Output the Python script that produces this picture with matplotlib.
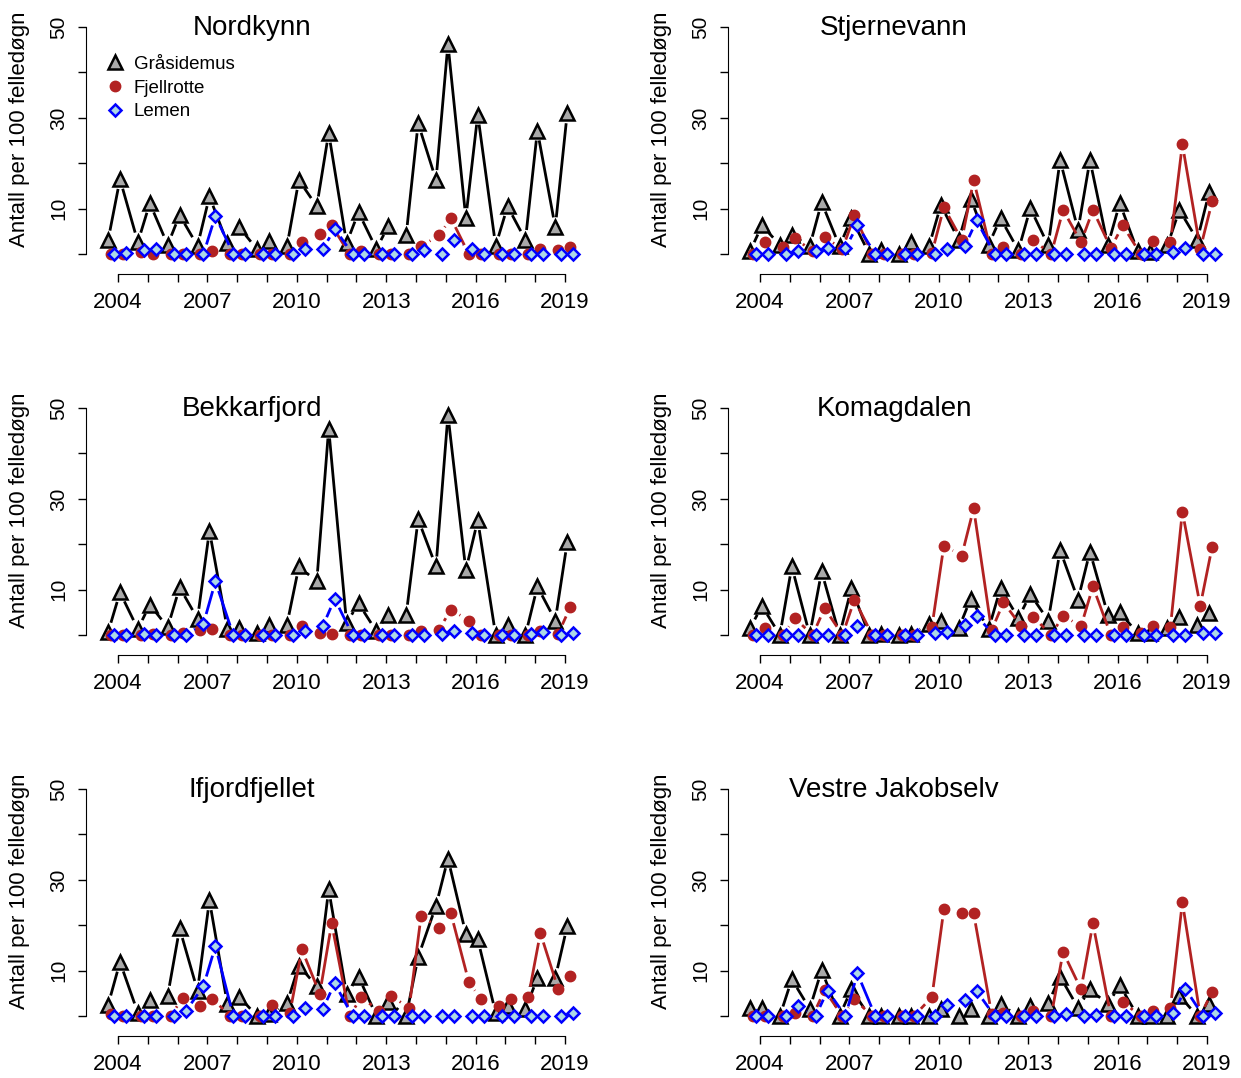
import numpy as np
import matplotlib
matplotlib.use('Agg')
import matplotlib.pyplot as plt
from matplotlib.collections import LineCollection
from matplotlib.lines import Line2D

plt.rcParams['font.family'] = ['Liberation Sans', 'DejaVu Sans']

years = np.arange(2004, 2020)
year_labels = [str(y) if (y - 2004) % 3 == 0 else '' for y in years]
y_ticks = [0, 10, 20, 30, 40, 50]
y_ticklabels = ['', '10', '', '30', '', '50']

# vår og høst hvert år, 32 fangster per art
nordkynn_gras = [3.0, 16.5, 2.6, 11.2, 2.0, 8.6, 1.8, 12.7, 2.4, 5.9, 1.0, 2.8, 1.7, 16.3, 10.5, 26.7,
                 2.4, 9.2, 1.1, 6.2, 4.2, 28.8, 16.3, 46.3, 7.9, 30.7, 1.8, 10.5, 3.1, 27.2, 5.9, 31.0]
nordkynn_fjell = [0, 0, 0.4, 0, 0, 0, 0, 0.7, 0, 0, 0, 0, 0, 2.6, 4.4, 6.3,
                  0, 0.6, 0, 0, 0, 1.7, 4.1, 7.9, 0, 0, 0, 0, 0, 1.1, 0.8, 1.5]
nordkynn_lemen = [0, 0.2, 0.8, 1.0, 0, 0, 0, 8.4, 0, 0, 0, 0, 0, 1.0, 1.0, 5.6,
                  0, 0, 0, 0, 0, 0.8, 0, 3.1, 1.0, 0, 0, 0, 0, 0, 0, 0]

stjernevann_gras = [0.6, 6.3, 2.0, 4.2, 1.7, 11.4, 1.7, 7.9, 0, 0.8, 0, 2.6, 1.7, 10.8, 3.1, 12.2,
                    2.0, 7.9, 0.8, 10.1, 1.9, 20.7, 5.3, 20.7, 1.9, 11.2, 0.6, 0.5, 1.9, 9.7, 3.1, 13.6]
stjernevann_fjell = [0, 2.6, 1.5, 3.5, 0.6, 3.7, 1.1, 8.5, 0, 0, 0, 0, 0.2, 10.3, 3.1, 16.3,
                     0, 1.5, 0, 3.0, 0, 9.7, 2.6, 9.7, 1.3, 6.3, 0, 2.8, 2.6, 24.2, 1.1, 11.6]
stjernevann_lemen = [0, 0, 0, 0.6, 0.6, 1.3, 1.3, 6.3, 0, 0, 0, 0, 0, 1.0, 1.7, 7.4,
                     0, 0, 0, 0, 0, 0, 0, 0, 0, 0, 0, 0, 0.4, 1.3, 0, 0]

bekkarfjord_gras = [0.6, 9.4, 1.3, 6.7, 1.7, 10.5, 3.6, 23.0, 1.3, 1.5, 0.4, 2.3, 2.3, 15.1, 11.8, 45.5,
                    2.6, 7.0, 0.8, 4.5, 4.5, 25.5, 15.1, 48.5, 14.3, 25.3, 0, 2.1, 0, 10.7, 3.2, 20.4]
bekkarfjord_fjell = [0, 0, 0, 0.2, 0, 0.4, 1.0, 1.3, 0, 0, 0, 0, 0, 1.9, 0.4, 0.3,
                     0, 0, 0, 0, 0, 0.8, 1.2, 5.6, 3.2, 0, 0, 0, 0, 0.8, 0.3, 6.1]
bekkarfjord_lemen = [0, 0, 0.2, 0, 0, 0, 2.5, 11.8, 0, 0, 0, 0, 0, 0.8, 1.9, 8.0,
                     0, 0, 0, 0, 0, 0, 0.3, 0.8, 0.4, 0, 0, 0, 0.3, 0.6, 0, 0.4]

komagdalen_gras = [1.5, 6.4, 0, 15.1, 0, 14.0, 0, 10.3, 0, 0.2, 0, 0.2, 2.4, 3.2, 1.5, 8.0,
                   1.3, 10.3, 3.7, 9.0, 3.2, 18.7, 7.8, 18.4, 4.5, 5.0, 0.4, 0.4, 1.5, 3.9, 2.3, 4.8]
komagdalen_fjell = [0, 1.5, 0, 3.7, 0, 5.9, 0, 7.8, 0, 0, 0, 0, 1.8, 19.7, 17.5, 27.9,
                    1.0, 7.2, 1.9, 4.0, 0, 4.3, 1.9, 10.7, 0, 1.8, 0.4, 1.9, 1.8, 27.2, 6.4, 19.5]
komagdalen_lemen = [0, 0, 0, 0, 0, 0, 0, 1.9, 0, 0, 0, 0, 0.4, 0.7, 2.3, 4.1,
                    0, 0, 0, 0, 0, 0, 0, 0, 0, 0, 0, 0, 0, 0, 0.4, 0.4]

ifjordfjellet_gras = [2.4, 11.9, 0.7, 3.5, 4.5, 19.3, 5.6, 25.5, 2.7, 4.2, 0, 0.5, 2.8, 11.1, 6.6, 27.9,
                      4.8, 8.7, 0, 3.1, 0, 13.0, 24.3, 34.7, 18.1, 16.9, 0.7, 2.1, 1.5, 8.4, 8.4, 19.8]
ifjordfjellet_fjell = [0.5, 0, 0, 0, 0, 4.0, 2.3, 3.8, 0, 0, 0, 2.4, 0.7, 14.7, 4.9, 20.4,
                       0, 4.2, 1.0, 4.4, 1.8, 22.1, 19.4, 22.6, 7.5, 3.8, 2.1, 3.8, 4.3, 18.3, 5.9, 8.9]
ifjordfjellet_lemen = [0, 0, 0, 0, 0, 1.0, 6.6, 15.4, 0, 0, 0, 0, 0, 1.8, 1.5, 7.2,
                       0, 0, 0, 0, 0, 0, 0, 0, 0, 0, 0, 0, 0, 0, 0, 0.6]

vjakobselv_gras = [1.8, 1.8, 0, 8.1, 1.6, 10.1, 0, 5.9, 0, 0, 0, 0, 0, 1.6, 0, 1.6,
                   0, 2.6, 0, 2.2, 2.8, 8.7, 1.8, 5.9, 2.6, 6.8, 0, 0, 0, 4.5, 0, 2.6]
vjakobselv_fjell = [0, 0, 0, 0.7, 0, 5.7, 0, 3.7, 0, 0, 0, 0, 4.2, 23.5, 22.6, 22.6,
                    0.5, 0.7, 0, 1.1, 0, 14.1, 5.9, 20.4, 0, 3.1, 0, 1.1, 1.8, 25.1, 0, 5.4]
vjakobselv_lemen = [0, 0, 0, 2.2, 0, 5.6, 0, 9.4, 0, 0, 0, 0, 0, 2.4, 3.5, 5.5,
                    0, 0, 0, 0, 0, 0.5, 0, 0.2, 0, 0, 0, 0, 0.6, 6.0, 0, 0.6]

panels = [
    ('Nordkynn', nordkynn_gras, nordkynn_fjell, nordkynn_lemen),
    ('Stjernevann', stjernevann_gras, stjernevann_fjell, stjernevann_lemen),
    ('Bekkarfjord', bekkarfjord_gras, bekkarfjord_fjell, bekkarfjord_lemen),
    ('Komagdalen', komagdalen_gras, komagdalen_fjell, komagdalen_lemen),
    ('Ifjordfjellet', ifjordfjellet_gras, ifjordfjellet_fjell, ifjordfjellet_lemen),
    ('Vestre Jakobselv', vjakobselv_gras, vjakobselv_fjell, vjakobselv_lemen),
]

# tidspunkt for vår- og høstfangst, artene litt forskjøvet
x_season = np.column_stack([years - 0.33, years + 0.07]).ravel()
species = [
    ('Gråsidemus', 0.0, 'black', dict(marker='^', ms=10.5, mfc='#A9A9A9', mec='black', mew=1.8)),
    ('Fjellrotte', 0.1, '#B22222', dict(marker='o', ms=7.5, mfc='#B22222', mec='#B22222', mew=1)),
    ('Lemen', 0.2, 'blue', dict(marker='D', ms=6.5, mfc='#ADD8E6', mec='blue', mew=1.8)),
]

GAP = 10  # px, linjene stopper før punktene (som type="b" i R)


def plot_b(ax, x, y, color, z, mkw):
    pts = ax.transData.transform(np.column_stack([x, y]))
    inv = ax.transData.inverted()
    segs = []
    for p0, p1 in zip(pts[:-1], pts[1:]):
        d = p1 - p0
        f = GAP / np.hypot(*d)
        if f < 0.5:
            segs.append(inv.transform(np.array([p0 + f * d, p1 - f * d])))
    ax.add_collection(LineCollection(segs, colors=color, linewidths=2, zorder=z), autolim=False)
    ax.plot(x, y, linestyle='none', zorder=z + 0.5, **mkw)


fig = plt.figure(figsize=(12.41, 10.78), dpi=100)
lefts = [86 / 1241, 728 / 1241]
bottoms = [1 - 274 / 1078, 1 - 655 / 1078, 1 - 1036 / 1078]
width, height = 497 / 1241, 256 / 1078

for i, (name, gras, fjell, lemen) in enumerate(panels):
    ax = fig.add_axes([lefts[i % 2], bottoms[i // 2], width, height])
    ax.set_xlim(2002.93, 2019.6)
    ax.set_ylim(-4.4, 52)

    for (label, dx, color, mkw), vals, z in zip(species, [gras, fjell, lemen], [2, 3, 4]):
        plot_b(ax, x_season + dx, vals, color, z, mkw)

    ax.text(2008.5, 48.3, name, ha='center', va='baseline', fontsize=20)

    for s in ['top', 'right']:
        ax.spines[s].set_visible(False)
    ax.spines['bottom'].set_bounds(2004, 2019)
    ax.spines['left'].set_bounds(0, 50)
    ax.set_xticks(years)
    ax.set_xticklabels(year_labels)
    ax.set_yticks(y_ticks)
    ax.set_yticklabels(y_ticklabels, rotation=90, va='center')
    ax.tick_params(length=5.8, width=1)
    ax.tick_params(axis='x', pad=7, labelsize=16)
    ax.tick_params(axis='y', pad=7, labelsize=15)
    ax.set_ylabel('Antall per 100 felledøgn', fontsize=16, va='center')
    ax.yaxis.set_label_coords(-0.134, (27.5 + 4.4) / 56.4)

    if i == 0:
        handles = [Line2D([], [], linestyle='none', **mkw) for _, _, _, mkw in species]
        ax.legend(handles, [s[0] for s in species], loc='upper left', bbox_to_anchor=(0.0395, 0.852),
                  frameon=False, fontsize=13.5, handlelength=1.0, handletextpad=0.5,
                  labelspacing=0.35, borderpad=0, borderaxespad=0)

fig.savefig('out.png', dpi=100)
